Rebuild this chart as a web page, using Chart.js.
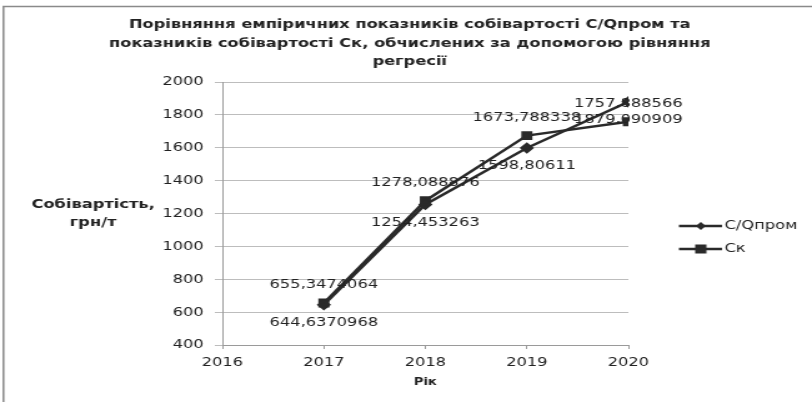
<!DOCTYPE html>
<html>
<head>
<meta charset="utf-8">
<script src="https://cdn.jsdelivr.net/npm/chart.js@4.4.1/dist/chart.umd.min.js"></script>
<style>
    html, body { margin: 0; padding: 0; background: #fff; overflow: hidden; }
    /* the source picture is stretched sideways, so the canvas is too */
    #lineChart { transform: scaleX(1.2492); transform-origin: 0 0; }
</style>
</head>
<body>
<canvas id="lineChart" width="650" height="402"></canvas>
<script>
//  Values
var years = [2017, 2018, 2019, 2020];
var cqProm = [644.6370968, 1254.453263, 1598.80611, 1879.090909];
var ck = [655.3474064, 1278.088876, 1673.788338, 1757.888566];
var seriesNames = ["С/Qпром", "Ск"];
var yTicks = [400, 600, 800, 1000, 1200, 1400, 1600, 1800, 2000];
var xTicks = [2016, 2017, 2018, 2019, 2020];
var titleLines = [
    "Порівняння емпіричних показників собівартості С/Qпром та",
    "показників собівартості Ск, обчислених за допомогою рівняння",
    "регресії"
];
var yTitleLines = ["Собівартість,", "грн/т"];
var xTitle = "Рік";

var lineColor = "#2a2a2a";
var textColor = "#222";
var font = "'DejaVu Sans', Verdana, sans-serif";

function points(vals) {
    return years.map(function (y, i) { return {x: y, y: vals[i]}; });
}

//  Frame, title, y-axis title and legend drawn on the canvas
var decorPlugin = {
    id: 'decor',
    beforeDraw: function (chart) {
        var ctx = chart.ctx;
        ctx.save();
        ctx.fillStyle = "#fff";
        ctx.fillRect(0, 0, chart.width, chart.height);
        ctx.strokeStyle = "#8a8a8a";
        ctx.lineWidth = 1.5;
        ctx.beginPath();
        ctx.moveTo(2.8, chart.height);
        ctx.lineTo(2.8, 6.5);
        ctx.lineTo(chart.width, 6.5);
        ctx.stroke();
        ctx.restore();
    },
    afterDraw: function (chart) {
        var ctx = chart.ctx;
        ctx.save();
        ctx.fillStyle = textColor;
        ctx.textAlign = "center";
        ctx.textBaseline = "middle";
        ctx.font = "bold 13px " + font;
        titleLines.forEach(function (t, i) {
            ctx.fillText(t, 328, 25 + i * 18.5);
        });
        yTitleLines.forEach(function (t, i) {
            ctx.fillText(t, 74.5, 205 + i * 18);
        });
        //  legend: line with marker in the middle
        var ds = chart.data.datasets;
        ctx.textAlign = "left";
        ctx.font = "13px " + font;
        ds.forEach(function (d, i) {
            var y = 226 + i * 23;
            ctx.strokeStyle = d.borderColor;
            ctx.lineWidth = d.borderWidth;
            ctx.beginPath();
            ctx.moveTo(543.5, y);
            ctx.lineTo(578, y);
            ctx.stroke();
            ctx.fillStyle = d.pointBackgroundColor;
            var r = d.pointRadius;
            var cx = 561;
            if (d.pointStyle === 'rect') {
                ctx.fillRect(cx - r, y - r, 2 * r, 2 * r);
            } else {
                ctx.beginPath();
                ctx.moveTo(cx, y - r);
                ctx.lineTo(cx + r, y);
                ctx.lineTo(cx, y + r);
                ctx.lineTo(cx - r, y);
                ctx.closePath();
                ctx.fill();
            }
            ctx.fillStyle = textColor;
            ctx.fillText(d.label, 580, y);
        });
        ctx.restore();
    }
};

//  Value labels: Ск above its points, С/Qпром below
var valueLabels = {
    id: 'valueLabels',
    afterDatasetsDraw: function (chart) {
        var ctx = chart.ctx;
        ctx.save();
        ctx.font = "13px " + font;
        ctx.fillStyle = textColor;
        ctx.textAlign = "center";
        ctx.textBaseline = "middle";
        chart.data.datasets.forEach(function (d, di) {
            var meta = chart.getDatasetMeta(di);
            var off = di === 1 ? -18 : 18;
            meta.data.forEach(function (pt, i) {
                var txt = String(d.data[i].y).replace('.', ',');
                ctx.fillText(txt, pt.x, pt.y + off);
            });
        });
        ctx.restore();
    }
};

new Chart(document.getElementById("lineChart"), {
    type: 'line',
    data: {
        datasets: [
            {
                label: seriesNames[0],
                data: points(cqProm),
                borderColor: lineColor,
                borderWidth: 2.5,
                pointStyle: 'rectRot',
                pointRadius: 4,
                pointBackgroundColor: lineColor,
                pointBorderColor: lineColor,
                lineTension: 0
            },
            {
                label: seriesNames[1],
                data: points(ck),
                borderColor: lineColor,
                borderWidth: 2.5,
                pointStyle: 'rect',
                pointRadius: 4.5,
                pointBackgroundColor: lineColor,
                pointBorderColor: lineColor,
                lineTension: 0
            }
        ]
    },
    options: {
        responsive: false,
        animation: false,
        devicePixelRatio: 1,
        layout: {padding: {left: 120, right: 147, top: 82, bottom: 0}},
        plugins: {
            legend: {display: false},
            title: {display: false},
            tooltip: {enabled: false}
        },
        scales: {
            x: {
                type: 'linear',
                min: xTicks[0],
                max: xTicks[xTicks.length - 1],
                afterBuildTicks: function (s) {
                    s.ticks = xTicks.map(function (v) { return {value: v}; });
                },
                afterFit: function (s) { s.height = 57; },
                ticks: {
                    callback: function (v) { return String(v); },
                    color: textColor,
                    font: {family: font, size: 13},
                    padding: 6,
                    maxRotation: 0
                },
                grid: {drawOnChartArea: false, drawTicks: true, tickLength: 4, color: "#9a9a9a"},
                border: {color: "#9a9a9a", width: 1},
                title: {
                    display: true,
                    text: xTitle,
                    color: textColor,
                    font: {family: font, size: 10.5, weight: 'bold'},
                    padding: {top: 0, bottom: 13}
                }
            },
            y: {
                min: yTicks[0],
                max: yTicks[yTicks.length - 1],
                afterBuildTicks: function (s) {
                    s.ticks = yTicks.map(function (v) { return {value: v}; });
                },
                afterFit: function (s) { s.width = 58; },
                ticks: {
                    callback: function (v) { return String(v); },
                    color: textColor,
                    font: {family: font, size: 13},
                    padding: 9
                },
                grid: {color: "#bdbdbd", tickLength: 6},
                border: {color: "#9a9a9a", width: 1}
            }
        }
    },
    plugins: [decorPlugin, valueLabels]
});
</script>
</body>
</html>
